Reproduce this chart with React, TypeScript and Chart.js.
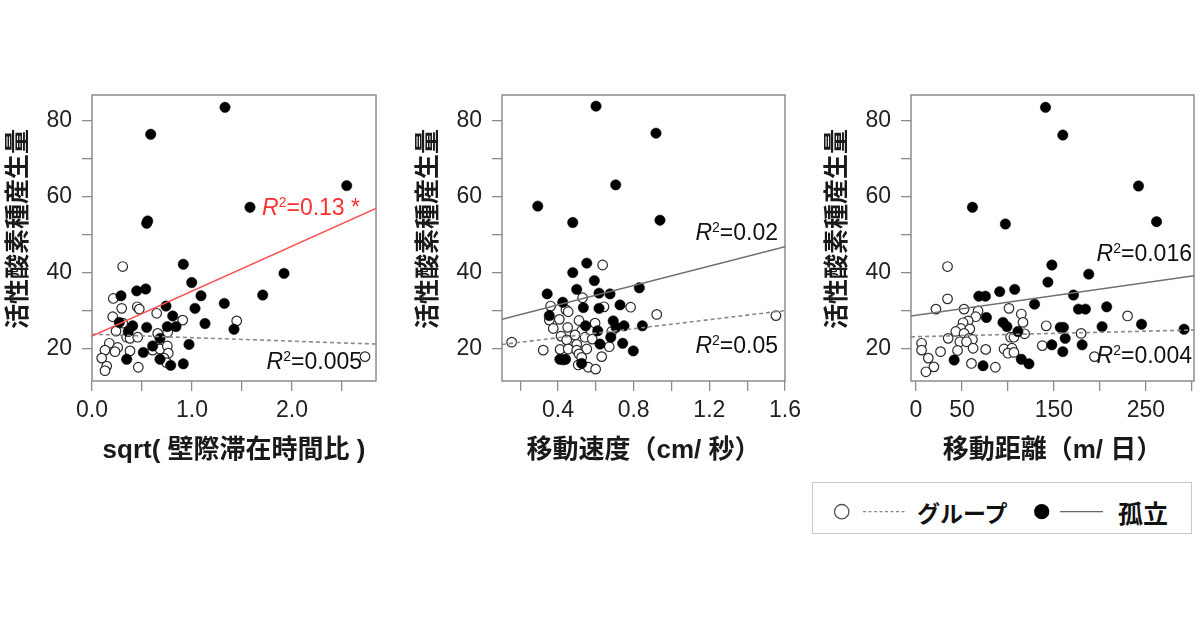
import React, { useEffect, useRef } from 'react';
import { Chart, registerables } from 'chart.js';

Chart.register(...registerables);

// ---------- ticks ----------
const yTickValues = [20, 30, 40, 50, 60, 70, 80];
const yTickLabels = ['20', '', '40', '', '60', '', '80'];

const wallTickValues = [0, 0.5, 1, 1.5, 2, 2.5];
const wallTickLabels = ['0.0', '', '1.0', '', '2.0', ''];
const speedTickValues = [0.2, 0.4, 0.6, 0.8, 1.0, 1.2, 1.4, 1.6];
const speedTickLabels = ['', '0.4', '', '0.8', '', '1.2', '', '1.6'];
const distTickValues = [0, 50, 100, 150, 200, 250, 300];
const distTickLabels = ['0', '50', '', '150', '', '250', ''];

const yTitle = '活性酸素種産生量';

// ---------- panel 1: sqrt(wall time ratio) ----------
const wallGroup = [
  [0.307, 41.7], [0.213, 33.3], [0.297, 30.7], [0.453, 31.1], [0.473, 30.5], [0.647, 29.4],
  [0.207, 28.5], [0.907, 27.6], [1.447, 27.4], [0.307, 26.8], [0.24, 24.7], [0.657, 24.1],
  [0.757, 24.4], [0.347, 23.1], [0.38, 22.8], [0.457, 23.1], [0.173, 21.5], [0.257, 20.4],
  [0.13, 19.7], [0.23, 19.3], [0.38, 19.5], [0.607, 19.7], [0.68, 20.0], [0.753, 20.8],
  [0.763, 18.9], [0.72, 17.6], [0.097, 17.6], [0.147, 15.5], [0.13, 14.3], [0.463, 15.2],
  [2.73, 18.0], [0.747, 16.4],
];
const wallIsolated = [
  [1.33, 83.6], [0.587, 76.5], [2.547, 63.0], [1.58, 57.3], [0.547, 53.1], [0.557, 53.7],
  [0.913, 42.3], [1.92, 39.9], [0.997, 37.5], [0.447, 35.3], [0.537, 35.8], [0.29, 34.0],
  [1.707, 34.2], [1.09, 34.0], [1.323, 32.0], [1.03, 30.7], [0.74, 31.3], [0.807, 28.7],
  [0.273, 27.0], [1.13, 26.7], [1.42, 25.2], [0.407, 26.1], [0.547, 25.7], [0.753, 25.9],
  [0.84, 25.9], [0.363, 24.6], [0.68, 22.8], [0.607, 20.8], [0.97, 21.2], [0.513, 19.1],
  [0.347, 17.3], [0.68, 17.3], [0.787, 15.7], [0.913, 16.1],
];
const wallGroupFit = [[0, 23.9], [2.84, 21.3]];
const wallIsolatedFit = [[0, 23.4], [2.84, 57.0]];

// ---------- panel 2: speed ----------
const speedGroup = [
  [0.636, 42.1], [0.53, 33.5], [0.361, 31.3], [0.442, 30.3], [0.454, 29.8], [0.643, 31.1],
  [0.784, 31.0], [0.922, 29.1], [0.354, 27.6], [0.407, 27.8], [0.375, 25.4], [0.451, 25.7],
  [0.511, 27.5], [0.596, 26.8], [0.525, 24.8], [0.155, 21.8], [0.322, 19.7], [0.416, 23.4],
  [0.446, 22.4], [0.49, 23.7], [0.499, 21.2], [0.543, 23.1], [0.581, 22.6], [0.411, 19.9],
  [0.454, 20.0], [0.499, 19.7], [0.552, 20.0], [0.428, 17.1], [0.511, 18.7], [0.525, 17.8],
  [0.631, 18.0], [0.671, 20.6], [0.507, 15.8], [0.56, 15.2], [0.599, 14.7], [0.684, 24.6],
  [1.552, 28.8],
];
const speedIsolated = [
  [0.601, 83.9], [0.918, 76.8], [0.705, 63.2], [0.293, 57.6], [0.939, 53.9], [0.478, 53.3],
  [0.552, 42.6], [0.478, 40.1], [0.592, 38.0], [0.499, 35.7], [0.343, 34.5], [0.617, 34.7],
  [0.675, 34.5], [0.83, 36.1], [0.425, 32.3], [0.728, 31.6], [0.534, 30.9], [0.617, 30.7],
  [0.354, 28.8], [0.692, 27.4], [0.707, 25.7], [0.749, 26.1], [0.846, 26.1], [0.546, 26.1],
  [0.61, 24.8], [0.679, 23.1], [0.622, 21.3], [0.742, 21.5], [0.798, 19.5], [0.41, 17.3],
  [0.44, 17.3], [0.525, 16.2],
];
const speedGroupFit = [[0.104, 21.2], [1.6, 30.1]];
const speedIsolatedFit = [[0.104, 27.8], [1.6, 46.9]];

// ---------- panel 3: distance ----------
const distGroup = [
  [34.3, 41.7], [34.3, 33.2], [21.7, 30.5], [52.3, 30.5], [67.5, 30.0], [101.1, 30.7],
  [114.5, 29.2], [65, 28.5], [56.7, 27.4], [51.2, 26.9], [116.3, 27.0], [48.8, 25.4],
  [58.5, 25.3], [43.3, 24.6], [35, 22.8], [52.3, 24.1], [57.7, 22.8], [61.4, 22.5],
  [141.6, 26.1], [118.1, 24.0], [102.9, 23.1], [106.5, 23.1], [6.1, 21.5], [6.1, 19.7],
  [26.7, 19.3], [47.7, 21.9], [54.9, 21.9], [62.1, 20.2], [45.2, 19.6], [75.8, 19.9],
  [95.7, 20.0], [104.3, 20.2], [100, 18.9], [106.5, 19.1], [137.3, 20.9], [13.4, 17.6],
  [19.5, 15.3], [10.8, 14.0], [60.3, 16.2], [86.3, 15.2], [230, 28.7], [179.5, 24.1],
  [194, 18.0],
];
const distIsolated = [
  [140.8, 83.6], [159.6, 76.3], [241.9, 62.9], [61.4, 57.3], [97.2, 52.9], [261.5, 53.5],
  [147.7, 42.1], [187.8, 39.7], [143.4, 37.6], [91, 35.1], [107.3, 35.7], [68.3, 33.9],
  [75.5, 33.9], [128.9, 31.8], [171.2, 34.2], [176.6, 30.5], [184.2, 30.5], [207.3, 31.1],
  [76.6, 28.3], [94.6, 27.0], [98.9, 25.9], [110.8, 24.6], [156.8, 25.7], [160.3, 25.7],
  [202.3, 25.9], [245.2, 26.5], [291.4, 25.2], [162.2, 22.8], [147.7, 21.1], [180.6, 21.1],
  [159.6, 19.3], [41.5, 17.1], [114.5, 17.3], [72.9, 15.6], [122.8, 16.1],
];
const distGroupFit = [[-5.4, 23.2], [302.2, 25.0]];
const distIsolatedFit = [[-5.4, 28.7], [302.2, 39.3]];

const Y_MIN = 11.58;
const Y_MAX = 86.84;

const FONT_NUM = '"Liberation Sans", Arial, sans-serif';
const FONT_JP = '"Liberation Sans", "Noto Sans CJK JP", sans-serif';
const FONT_CJK = '"Noto Sans CJK JP", sans-serif';

type Note = { x: number; y: number; value: string; color: string };
type PanelCfg = {
  xTitle: string;
  xMin: number;
  xMax: number;
  xTicks: number[];
  xLabels: string[];
  group: number[][];
  isolated: number[][];
  groupFit: number[][];
  isolatedFit: number[][];
  isoLineColor: string;
  boxLeft: number;
  boxRight: number;
  notes: Note[];
};

const panels: PanelCfg[] = [
  {
    xTitle: 'sqrt( 壁際滞在時間比 )',
    xMin: 0, xMax: 2.84,
    xTicks: wallTickValues, xLabels: wallTickLabels,
    group: wallGroup, isolated: wallIsolated,
    groupFit: wallGroupFit, isolatedFit: wallIsolatedFit,
    isoLineColor: '#ff5050',
    boxLeft: 92, boxRight: 376,
    notes: [
      { x: 2.68, y: 57.4, value: '0.13 *', color: '#ff3030' },
      { x: 2.70, y: 16.8, value: '0.005', color: '#111111' },
    ],
  },
  {
    xTitle: '移動速度（cm/ 秒）',
    xMin: 0.104, xMax: 1.6,
    xTicks: speedTickValues, xLabels: speedTickLabels,
    group: speedGroup, isolated: speedIsolated,
    groupFit: speedGroupFit, isolatedFit: speedIsolatedFit,
    isoLineColor: '#707070',
    boxLeft: 502, boxRight: 785,
    notes: [
      { x: 1.563, y: 50.8, value: '0.02', color: '#111111' },
      { x: 1.563, y: 21.05, value: '0.05', color: '#111111' },
    ],
  },
  {
    xTitle: '移動距離（m/ 日）',
    xMin: -5.4, xMax: 302.2,
    xTicks: distTickValues, xLabels: distTickLabels,
    group: distGroup, isolated: distIsolated,
    groupFit: distGroupFit, isolatedFit: distIsolatedFit,
    isoLineColor: '#707070',
    boxLeft: 911, boxRight: 1195,
    notes: [
      { x: 300, y: 45.3, value: '0.016', color: '#111111' },
      { x: 300, y: 18.4, value: '0.004', color: '#111111' },
    ],
  },
];

const Y_AXIS_W = 92;
const X_AXIS_H = 90;
const BOX_TOP = 95;
const BOX_BOTTOM = 381;

const boxPlugin = {
  id: 'boxFrame',
  beforeDatasetsDraw(chart: any) {
    const { ctx, chartArea } = chart;
    ctx.save();
    ctx.strokeStyle = '#8c8c8c';
    ctx.lineWidth = 1.5;
    ctx.strokeRect(chartArea.left, chartArea.top, chartArea.right - chartArea.left, chartArea.bottom - chartArea.top);
    ctx.restore();
  },
};

// vertical y-axis title, drawn beside the y scale
const yTitlePlugin = {
  id: 'yTitleText',
  afterDraw(chart: any) {
    const { ctx, chartArea } = chart;
    ctx.save();
    ctx.translate(chartArea.left - 76, (chartArea.top + chartArea.bottom) / 2 - 9);
    ctx.rotate(-Math.PI / 2);
    ctx.font = `bold 25px ${FONT_CJK}`;
    ctx.fillStyle = '#1a1a1a';
    ctx.textAlign = 'center';
    ctx.textBaseline = 'middle';
    ctx.fillText(yTitle, 0, 0);
    ctx.restore();
  },
};

function makeNotesPlugin(notes: Note[]) {
  return {
    id: 'r2notes',
    afterDatasetsDraw(chart: any) {
      const { ctx } = chart;
      const xs = chart.scales.x;
      const ys = chart.scales.y;
      const size = 23;
      for (const n of notes) {
        const right = xs.getPixelForValue(n.x);
        const cy = ys.getPixelForValue(n.y);
        ctx.save();
        ctx.fillStyle = n.color;
        ctx.textBaseline = 'alphabetic';
        ctx.textAlign = 'left';
        const fR = `italic ${size}px ${FONT_NUM}`;
        const fS = `${Math.round(size * 0.6)}px ${FONT_NUM}`;
        const fT = `${size}px ${FONT_NUM}`;
        const rest = '=' + n.value;
        ctx.font = fR;
        const wR = ctx.measureText('R').width;
        ctx.font = fS;
        const wS = ctx.measureText('2').width;
        ctx.font = fT;
        const wT = ctx.measureText(rest).width;
        let x = right - (wR + wS + wT);
        const base = cy + size * 0.36;
        ctx.font = fR;
        ctx.fillText('R', x, base);
        x += wR;
        ctx.font = fS;
        ctx.fillText('2', x, base - size * 0.36);
        x += wS;
        ctx.font = fT;
        ctx.fillText(rest, x, base);
        ctx.restore();
      }
    },
  };
}

const toPts = (arr: number[][]) => arr.map(([x, y]) => ({ x, y }));

function buildConfig(p: PanelCfg): any {
  return {
    type: 'scatter',
    data: {
      datasets: [
        {
          label: 'isolatedFit',
          data: toPts(p.isolatedFit),
          showLine: true,
          borderColor: p.isoLineColor,
          borderWidth: 1.5,
          pointRadius: 0,
          order: 0,
        },
        {
          label: 'groupFit',
          data: toPts(p.groupFit),
          showLine: true,
          borderColor: '#8a8a8a',
          borderDash: [4, 3],
          borderWidth: 1.6,
          pointRadius: 0,
          order: 1,
        },
        {
          label: '孤立',
          data: toPts(p.isolated),
          pointRadius: 5.2,
          borderWidth: 0.5,
          borderColor: '#000000',
          backgroundColor: '#000000',
          order: 2,
        },
        {
          label: 'グループ',
          data: toPts(p.group),
          pointRadius: 4.8,
          borderWidth: 1.2,
          borderColor: '#2a2a2a',
          backgroundColor: '#ffffff',
          order: 3,
        },
      ],
    },
    options: {
      responsive: false,
      animation: false,
      devicePixelRatio: 1,
      events: [],
      layout: {
        padding: {
          left: p.boxLeft - Y_AXIS_W,
          right: 1200 - p.boxRight,
          top: BOX_TOP,
          bottom: 630 - BOX_BOTTOM - X_AXIS_H,
        },
      },
      plugins: {
        legend: { display: false },
        tooltip: { enabled: false },
        title: { display: false },
      },
      scales: {
        x: {
          type: 'linear',
          position: 'bottom',
          min: p.xMin,
          max: p.xMax,
          afterBuildTicks: (s: any) => {
            s.ticks = p.xTicks.map((v) => ({ value: v }));
          },
          afterFit: (s: any) => {
            s.height = X_AXIS_H;
          },
          ticks: {
            callback: (_v: any, i: number) => p.xLabels[i] ?? '',
            autoSkip: false,
            maxRotation: 0,
            minRotation: 0,
            font: { family: FONT_NUM, size: 23 },
            color: '#222222',
            padding: 6,
          },
          grid: {
            display: true,
            drawOnChartArea: false,
            drawTicks: true,
            tickLength: 10,
            color: '#8c8c8c',
            lineWidth: 1.3,
          },
          border: { display: false },
          title: {
            display: true,
            text: p.xTitle,
            font: { family: FONT_JP, size: 26, weight: 'bold' },
            color: '#1a1a1a',
            padding: { top: 0, bottom: 5 },
          },
        },
        y: {
          type: 'linear',
          position: 'left',
          min: Y_MIN,
          max: Y_MAX,
          afterBuildTicks: (s: any) => {
            s.ticks = yTickValues.map((v) => ({ value: v }));
          },
          afterFit: (s: any) => {
            s.width = Y_AXIS_W;
          },
          ticks: {
            callback: (_v: any, i: number) => yTickLabels[i] ?? '',
            autoSkip: false,
            font: { family: FONT_NUM, size: 23 },
            color: '#222222',
            padding: 10,
          },
          grid: {
            display: true,
            drawOnChartArea: false,
            drawTicks: true,
            tickLength: 10,
            color: '#8c8c8c',
            lineWidth: 1.3,
          },
          border: { display: false },
          title: { display: false },
        },
      },
    },
    plugins: [boxPlugin, yTitlePlugin, makeNotesPlugin(p.notes)],
  };
}

function PanelChart({ cfg }: { cfg: PanelCfg }) {
  const ref = useRef<HTMLCanvasElement>(null);
  useEffect(() => {
    if (!ref.current) return;
    const chart = new Chart(ref.current, buildConfig(cfg));
    return () => chart.destroy();
  }, [cfg]);
  return (
    <canvas
      ref={ref}
      width={1200}
      height={630}
      style={{ position: 'absolute', left: 0, top: 0, width: 1200, height: 630 }}
    />
  );
}

function Legend() {
  return (
    <svg
      width={382}
      height={53}
      style={{ position: 'absolute', left: 811, top: 482 }}
    >
      <rect x={1.5} y={0.5} width={379} height={51} fill="#ffffff" stroke="#c8c8c8" strokeWidth={1} />
      <circle cx={30.7} cy={29.7} r={7.2} fill="#ffffff" stroke="#555555" strokeWidth={1.3} />
      <line x1={52} x2={94} y1={29.7} y2={29.7} stroke="#888888" strokeWidth={1.3} strokeDasharray="3 2.5" />
      <text
        x={106}
        y={29.5}
        dominantBaseline="central"
        style={{ font: `bold 23px ${FONT_CJK}` }}
        fill="#111111"
      >
        グループ
      </text>
      <circle cx={230.7} cy={29.7} r={7.6} fill="#000000" />
      <line x1={249} x2={292} y1={29.7} y2={29.7} stroke="#666666" strokeWidth={1.3} />
      <text
        x={307}
        y={29.5}
        dominantBaseline="central"
        style={{ font: `bold 25px ${FONT_CJK}` }}
        fill="#111111"
      >
        孤立
      </text>
    </svg>
  );
}

export default function App() {
  return (
    <div
      style={{
        position: 'absolute',
        left: 0,
        top: 0,
        width: 1200,
        height: 630,
        background: '#ffffff',
        overflow: 'hidden',
      }}
    >
      {panels.map((p, i) => (
        <PanelChart key={i} cfg={p} />
      ))}
      <Legend />
    </div>
  );
}
